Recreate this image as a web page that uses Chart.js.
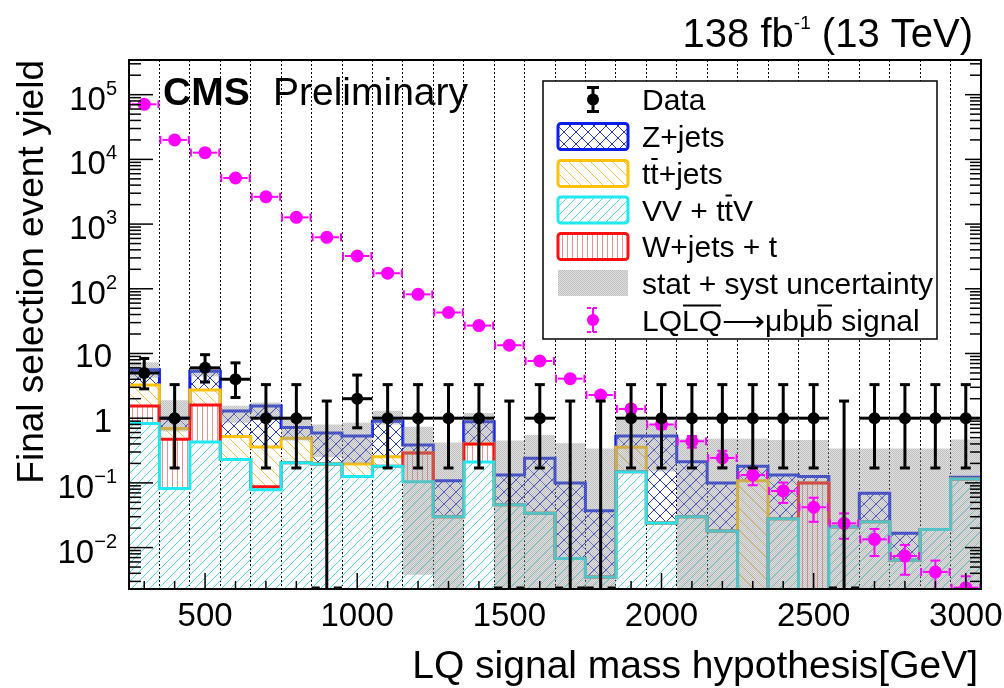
<!DOCTYPE html>
<html>
<head>
<meta charset="utf-8">
<script src="https://cdn.jsdelivr.net/npm/chart.js@4.4.1/dist/chart.umd.min.js"></script>
<style>
  html, body { margin: 0; padding: 0; background: #fff; }
  #wrap { width: 1004px; height: 688px; }
</style>
</head>
<body>
<div id="wrap"><canvas id="lq" width="1004" height="688"></canvas></div>
<script>
// LQ mass hypothesis bins (GeV), 100 GeV wide
const massBins = [300, 400, 500, 600, 700, 800, 900, 1000, 1100, 1200, 1300, 1400, 1500, 1600,
  1700, 1800, 1900, 2000, 2100, 2200, 2300, 2400, 2500, 2600, 2700, 2800, 2900, 3000];
const binHalfWidth = 50;
const massRange = [250, 3050];
const yieldRange = [0.00229, 343600];
const xTickLabels = [500, 1000, 1500, 2000, 2500, 3000];
const yTickPowers = [-2, -1, 0, 1, 2, 3, 4, 5];

// observed events with Garwood intervals
const dataCounts = [5, 1, 6, 4, 1, 1, 0, 2, 1, 1, 1, 1, 0, 1, 0, 0, 1, 1, 1, 1, 1, 1, 1, 0, 1, 1, 1, 1];
const dataErrDown = [2.16, 0.83, 2.38, 1.91, 0.83, 0.83, 0, 1.29, 0.83, 0.83, 0.83, 0.83, 0, 0.83,
  0, 0, 0.83, 0.83, 0.83, 0.83, 0.83, 0.83, 0.83, 0, 0.83, 0.83, 0.83, 0.83];
const dataErrUp = [3.38, 2.30, 3.58, 3.16, 2.30, 2.30, 1.84, 2.64, 2.30, 2.30, 2.30, 2.30, 1.84, 2.30,
  1.84, 1.84, 2.30, 2.30, 2.30, 2.30, 2.30, 2.30, 2.30, 1.84, 2.30, 2.30, 2.30, 2.30];

// background yields per process (stacked bottom to top)
const vvYield = [0.83, 0.082, 0.43, 0.23, 0.078, 0.205, 0.196, 0.125, 0.18, 0.104, 0.030, 0.21, 0.046, 0.034,
  0.0068, 0.0035, 0.149, 0.024, 0.030, 0.018, 0.001, 0.028, 0.001, 0.021, 0.025, 0.0064, 0.019, 0.115];
const wjetsYield = [0.71, 0.39, 1.17, 0, 0.009, 0, 0, 0, 0, 0.186, 0, 0.19, 0, 0,
  0, 0, 0, 0, 0, 0, 0, 0, 0.099, 0, 0, 0, 0, 0];
const ttYield = [1.72, 0.22, 1.13, 0.29, 0.273, 0.285, 0, 0.071, 0.074, 0, 0, 0, 0, 0,
  0, 0, 0.206, 0, 0, 0, 0.107, 0, 0, 0, 0, 0, 0, 0];
const zjetsYield = [2.34, 0.31, 2.57, 0.77, 1.18, 0.23, 0.394, 0.334, 0.646, 0.095, 0.078, 0.48, 0.086, 0.206,
  0.093, 0.0335, 0.175, 0.506, 0.183, 0.082, 0.072, 0.104, 0.025, 0, 0.044, 0.0102, 0, 0.007];

// total background uncertainty band
const uncLow = [4.2, 0.62, 4.4, 0.85, 0.95, 0.45, 0.25, 0.2, 0.8, 0.0038, 0.001, 0.42, 0.001, 0.001,
  0.001, 0.001, 0.15, 0.15, 0.001, 0.001, 0.001, 0.001, 0.001, 0.001, 0.001, 0.001, 0.001, 0.001];
const uncHigh = [7.3, 1.9, 6.2, 1.55, 1.75, 1.0, 0.8, 0.85, 1.3, 0.74, 0.42, 1.2, 0.45, 0.55,
  0.41, 0.34, 0.95, 0.8, 0.48, 0.48, 0.48, 0.46, 0.46, 0.34, 0.34, 0.34, 0.34, 0.47];

// LQ pair signal yield at each mass hypothesis
const signalYield = [71000, 20000, 12700, 5160, 2640, 1270, 625, 321, 174, 82, 43, 27, 13.4, 7.66,
  4.08, 2.28, 1.39, 0.80, 0.44, 0.243, 0.132, 0.075, 0.042, 0.0237, 0.0134, 0.0074, 0.0042, 0.0024];
const signalErr = [1800, 500, 320, 130, 66, 32, 16, 8, 4.4, 2.1, 1.1, 0.8, 0.5, 0.35,
  0.25, 0.2, 0.18, 0.12, 0.09, 0.07, 0.04, 0.026, 0.017, 0.010, 0.006, 0.0036, 0.0021, 0.0012];

// legend names, {..} marks an overline
const seriesNames = ['Data', 'Z+jets', 't{t}+jets', 'VV + t{t}V', 'W+jets + t', 'stat + syst uncertainty',
  'LQ{LQ}\u27f6\u03bcb\u03bc{b} signal'];

const FONT = '"Liberation Sans", Arial, Helvetica, sans-serif';
const canvas = document.getElementById('lq');
const ctx2d = canvas.getContext('2d');

function makePattern(size, paint) {
  const tile = document.createElement('canvas');
  tile.width = size;
  tile.height = size;
  paint(tile.getContext('2d'), size);
  return ctx2d.createPattern(tile, 'repeat');
}
function diagUp(g, s) {
  g.moveTo(0, s); g.lineTo(s, 0);
  g.moveTo(-1, 1); g.lineTo(1, -1);
  g.moveTo(s - 1, s + 1); g.lineTo(s + 1, s - 1);
}
function diagDown(g, s) {
  g.moveTo(0, 0); g.lineTo(s, s);
  g.moveTo(s - 1, -1); g.lineTo(s + 1, 1);
  g.moveTo(-1, s - 1); g.lineTo(1, s + 1);
}
function hatch(size, color, draw) {
  return makePattern(size, (g, s) => {
    g.strokeStyle = color;
    g.lineWidth = 1;
    g.beginPath();
    draw(g, s);
    g.stroke();
  });
}

const zPattern = hatch(12, '#2637df', (g, s) => { diagUp(g, s); diagDown(g, s); });
const ttPattern = hatch(11, '#f0c04a', diagDown);
const vvPattern = hatch(9, '#55d9e2', diagUp);
const wPattern = hatch(5, '#ee9090', (g, s) => { g.moveTo(2.5, 0); g.lineTo(2.5, s); });
// translucent grey mesh so the histogram outlines stay visible underneath
const greyPattern = makePattern(2, g => {
  g.fillStyle = 'rgba(150,150,150,0.6)';
  g.fillRect(0, 0, 1, 1);
  g.fillRect(1, 1, 1, 1);
  g.fillStyle = 'rgba(150,150,150,0.3)';
  g.fillRect(1, 0, 1, 1);
  g.fillRect(0, 1, 1, 1);
});

const colors = { z: '#0a1ee8', tt: '#ffc20a', vv: '#1ee8f0', w: '#ff1010', signal: '#ff00ff' };

// cumulative stack tops
const stackTops = [];
let running = massBins.map(() => 0);
[vvYield, wjetsYield, ttYield, zjetsYield].forEach(arr => {
  running = running.map((v, i) => v + arr[i]);
  stackTops.push(running);
});

const stepPoints = vals => massBins.map((m, i) => ({ x: m - binHalfWidth, y: vals[i] }))
  .concat([{ x: massBins[massBins.length - 1] + binHalfWidth, y: vals[vals.length - 1] }]);
const binEdges = massBins.slice(1).map(m => m - binHalfWidth);
const plainName = s => s.replace(/[{}]/g, '');

function histDataset(label, vals, color, pattern, fill, order) {
  return {
    label, data: stepPoints(vals), stepped: true, borderColor: color, borderWidth: 3,
    backgroundColor: pattern, fill, pointRadius: 0, order, clip: 0, xAxisID: 'x', yAxisID: 'y'
  };
}

const datasets = [
  histDataset(plainName(seriesNames[3]), stackTops[0], colors.vv, vvPattern, 'start', 6),
  histDataset(plainName(seriesNames[4]), stackTops[1], colors.w, wPattern, 0, 7),
  histDataset(plainName(seriesNames[2]), stackTops[2], colors.tt, ttPattern, 1, 8),
  histDataset(plainName(seriesNames[1]), stackTops[3], colors.z, zPattern, 2, 9),
  {
    label: seriesNames[5], data: stepPoints(uncHigh), stepped: true, borderWidth: 0,
    borderColor: 'rgba(0,0,0,0)', backgroundColor: greyPattern, fill: 5, pointRadius: 0,
    order: 5, clip: 0, xAxisID: 'x', yAxisID: 'y'
  },
  {
    label: 'uncertainty low', data: stepPoints(uncLow), stepped: true, borderWidth: 0,
    borderColor: 'rgba(0,0,0,0)', fill: false, pointRadius: 0, order: 4, clip: 0,
    xAxisID: 'x', yAxisID: 'y'
  },
  {
    label: plainName(seriesNames[6]), data: massBins.map((m, i) => ({ x: m, y: signalYield[i] })),
    showLine: false, pointRadius: 6.5, pointBorderWidth: 0, pointBackgroundColor: colors.signal,
    errorBars: 'signal', order: 3, clip: 0, xAxisID: 'x', yAxisID: 'y'
  },
  {
    label: seriesNames[0], data: massBins.map((m, i) => ({ x: m, y: dataCounts[i] > 0 ? dataCounts[i] : null })),
    showLine: false, pointRadius: 6, pointBorderWidth: 0, pointBackgroundColor: '#000',
    errorBars: 'data', order: 2, clip: 0, xAxisID: 'x', yAxisID: 'y'
  }
];

function seg(ctx, x1, y1, x2, y2) {
  ctx.beginPath();
  ctx.moveTo(x1, y1);
  ctx.lineTo(x2, y2);
  ctx.stroke();
}

function drawRuns(ctx, runs, x, baseline, overY) {
  runs.forEach(r => {
    ctx.font = r.font;
    const w = ctx.measureText(r.text).width;
    ctx.fillText(r.text, x, baseline - (r.rise || 0));
    if (r.over) {
      ctx.lineWidth = 2;
      seg(ctx, x + 1, overY, x + w - 1, overY);
    }
    x += w;
  });
  return x;
}

function runsWidth(ctx, runs) {
  return runs.reduce((s, r) => { ctx.font = r.font; return s + ctx.measureText(r.text).width; }, 0);
}

function markupRuns(s, font) {
  return s.split(/(\{[^}]*\})/).filter(Boolean).map(t => t[0] === '{'
    ? { text: t.slice(1, -1), over: true, font } : { text: t, over: false, font });
}

function drawLegend(ctx) {
  const bx = 543, by = 81, bw = 394, bh = 258;
  ctx.fillStyle = '#fff';
  ctx.fillRect(bx, by, bw, bh);
  ctx.strokeStyle = '#000';
  ctx.lineWidth = 1.5;
  ctx.strokeRect(bx, by, bw, bh);

  const rows = [99.5, 136.5, 173.5, 210, 246.5, 283, 320];
  const swatches = [null, [zPattern, colors.z], [ttPattern, colors.tt], [vvPattern, colors.vv],
    [wPattern, colors.w], [greyPattern, null], null];
  const sx = 558, sw = 70, sh = 26, mx = 593;
  rows.forEach((cy, i) => {
    const sws = swatches[i];
    if (sws) {
      ctx.fillStyle = sws[0];
      ctx.fillRect(sx, cy - sh / 2, sw, sh);
      if (sws[1]) {
        ctx.strokeStyle = sws[1];
        ctx.lineWidth = 3;
        ctx.beginPath();
        ctx.roundRect(sx, cy - sh / 2, sw, sh, 3);
        ctx.stroke();
      }
    } else {
      const col = i === 0 ? '#000' : colors.signal;
      ctx.strokeStyle = col;
      ctx.lineWidth = i === 0 ? 3 : 2;
      seg(ctx, mx, cy - 12, mx, cy + 12);
      if (i !== 0) ctx.setLineDash([4, 2]);
      seg(ctx, mx - 6, cy - 12, mx + 6, cy - 12);
      seg(ctx, mx - 6, cy + 12, mx + 6, cy + 12);
      ctx.setLineDash([]);
      ctx.fillStyle = col;
      ctx.beginPath();
      ctx.arc(mx, cy, 6, 0, Math.PI * 2);
      ctx.fill();
    }
    ctx.fillStyle = '#000';
    ctx.strokeStyle = '#000';
    ctx.textAlign = 'left';
    ctx.textBaseline = 'alphabetic';
    const base = cy + 10.5;
    drawRuns(ctx, markupRuns(seriesNames[i], '30px ' + FONT), 642, base, base - 25);
  });
}

const decor = {
  id: 'decor',
  beforeDatasetDraw(chart, args) {
    const kind = chart.data.datasets[args.index].errorBars;
    if (!kind) return;
    const { ctx, chartArea: a } = chart;
    const xs = chart.scales.x, ys = chart.scales.y;
    ctx.save();
    ctx.beginPath();
    ctx.rect(a.left, a.top, a.right - a.left, a.bottom - a.top);
    ctx.clip();
    ctx.lineCap = 'butt';
    const py = v => (v > 0 ? ys.getPixelForValue(v) : a.bottom + 10);
    massBins.forEach((m, i) => {
      const cx = xs.getPixelForValue(m);
      const xl = xs.getPixelForValue(m - binHalfWidth);
      const xr = xs.getPixelForValue(m + binHalfWidth);
      if (kind === 'data') {
        const n = dataCounts[i];
        ctx.strokeStyle = '#000';
        ctx.lineWidth = 3;
        const top = py(n + dataErrUp[i]);
        const bot = n > 0 ? py(n - dataErrDown[i]) : a.bottom + 5;
        seg(ctx, cx, top, cx, bot);
        seg(ctx, cx - 5, top, cx + 5, top);
        if (n > 0) {
          seg(ctx, cx - 5, bot, cx + 5, bot);
          const cy = py(n);
          seg(ctx, xl, cy, xr, cy);
        } else {
          seg(ctx, xl, a.bottom - 1, cx - 7, a.bottom - 1);
          seg(ctx, cx + 7, a.bottom - 1, xr, a.bottom - 1);
        }
      } else {
        const s = signalYield[i], e = signalErr[i];
        const cy = py(s);
        ctx.strokeStyle = colors.signal;
        ctx.lineWidth = 2;
        seg(ctx, xl + 3, cy, xr - 3, cy);
        seg(ctx, xl + 1, cy - 4, xl + 1, cy + 4);
        seg(ctx, xr - 1, cy - 4, xr - 1, cy + 4);
        const top = py(s + e), bot = py(s - e);
        seg(ctx, cx, top, cx, bot);
        seg(ctx, cx - 5, top, cx + 5, top);
        seg(ctx, cx - 5, bot, cx + 5, bot);
      }
    });
    ctx.restore();
  },
  afterDraw(chart) {
    const { ctx, chartArea: a } = chart;
    const xs = chart.scales.x, ys = chart.scales.y;
    ctx.save();
    ctx.strokeStyle = '#000';
    ctx.fillStyle = '#000';

    // tick marks on the bottom axis
    ctx.lineWidth = 1.5;
    massBins.forEach(m => {
      const x = xs.getPixelForValue(m);
      const len = xTickLabels.includes(m) ? 16 : 8;
      seg(ctx, x, a.bottom, x, a.bottom - len);
    });
    // log ticks on the left and right axes
    for (let p = -3; p <= 5; p++) {
      for (let k = 1; k <= 9; k++) {
        const v = k * Math.pow(10, p);
        if (v < yieldRange[0] || v > yieldRange[1]) continue;
        const y = ys.getPixelForValue(v);
        seg(ctx, a.left, y, a.left + (k === 1 ? 24 : 12), y);
        seg(ctx, a.right, y, a.right - (k === 1 ? 16 : 11), y);
      }
    }
    ctx.lineWidth = 2;
    ctx.strokeRect(a.left, a.top, a.right - a.left, a.bottom - a.top);

    // x tick labels
    ctx.font = '33px ' + FONT;
    ctx.textAlign = 'center';
    ctx.textBaseline = 'alphabetic';
    xTickLabels.forEach(v => ctx.fillText(String(v), xs.getPixelForValue(v), 626));

    // y tick labels, powers of ten
    ctx.textAlign = 'left';
    yTickPowers.forEach(p => {
      const y = ys.getPixelForValue(Math.pow(10, p));
      if (p === 0 || p === 1) {
        ctx.font = '33px ' + FONT;
        const t = p === 0 ? '1' : '10';
        ctx.fillText(t, 112 - ctx.measureText(t).width, y + 13.5);
      } else {
        const sup = p < 0 ? '\u2212' + (-p) : String(p);
        const runs = [
          { text: '10', font: '33px ' + FONT },
          { text: sup, font: '20px ' + FONT, rise: 15 }
        ];
        drawRuns(ctx, runs, 117 - runsWidth(ctx, runs), y + 15, 0);
      }
    });

    // axis titles
    ctx.font = '39px ' + FONT;
    ctx.textAlign = 'right';
    ctx.fillText('LQ signal mass hypothesis[GeV]', 978, 678);
    ctx.save();
    ctx.translate(43, 60);
    ctx.rotate(-Math.PI / 2);
    ctx.font = '37px ' + FONT;
    ctx.textAlign = 'right';
    ctx.fillText('Final selection event yield', 0, 0);
    ctx.restore();

    // experiment and luminosity labels
    ctx.textAlign = 'left';
    ctx.font = 'bold 39px ' + FONT;
    ctx.fillText('CMS', 163, 104.5);
    ctx.font = '39px ' + FONT;
    ctx.fillText('Preliminary', 273, 104.5);
    const lumi = [
      { text: '138 fb', font: '40px ' + FONT },
      { text: '-1', font: '19px ' + FONT, rise: 18 },
      { text: ' (13 TeV)', font: '40px ' + FONT }
    ];
    drawRuns(ctx, lumi, 973 - runsWidth(ctx, lumi), 47, 0);

    drawLegend(ctx);
    ctx.restore();
  }
};

new Chart(ctx2d, {
  type: 'line',
  data: { datasets },
  options: {
    responsive: false,
    animation: false,
    events: [],
    layout: { padding: { left: 129, right: 23, top: 60, bottom: 99 } },
    scales: {
      x: { type: 'linear', min: massRange[0], max: massRange[1], display: false },
      y: { type: 'logarithmic', min: yieldRange[0], max: yieldRange[1], display: false },
      // dotted lines on the bin edges, drawn above the histograms
      xg: {
        type: 'linear', position: 'top', min: massRange[0], max: massRange[1], z: 1,
        afterBuildTicks: axis => { axis.ticks = binEdges.map(v => ({ value: v })); },
        ticks: { display: false },
        grid: { color: '#000', lineWidth: 1, drawTicks: false },
        border: { display: false, dash: [2, 2] }
      }
    },
    plugins: { legend: { display: false }, tooltip: { enabled: false } }
  },
  plugins: [decor]
});
</script>
</body>
</html>
